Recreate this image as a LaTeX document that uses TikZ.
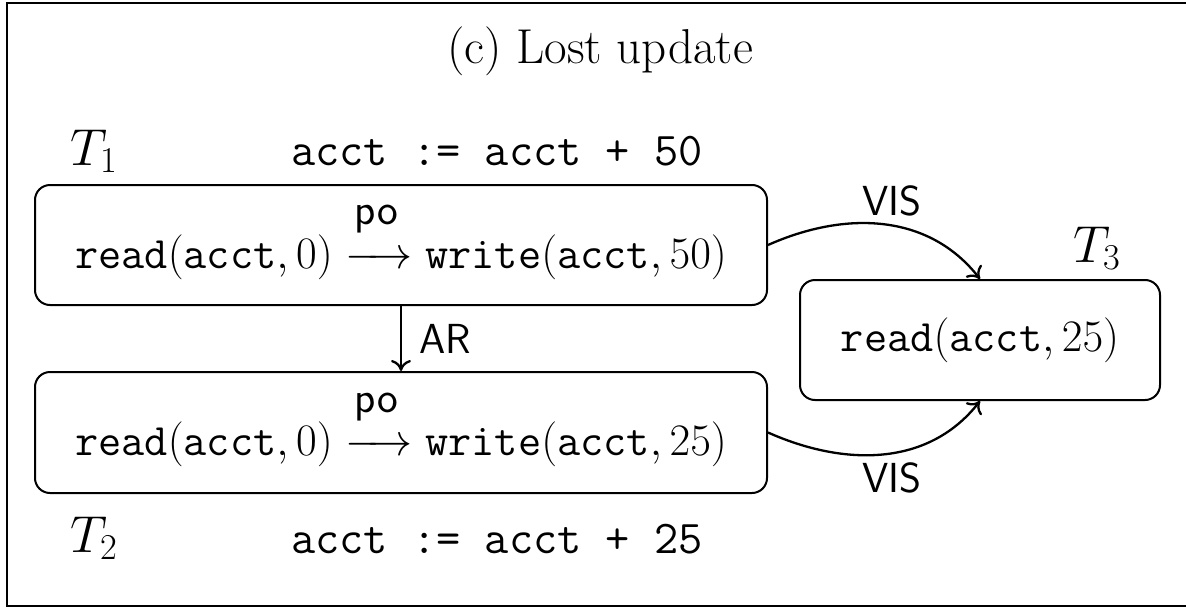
\RequirePackage{fix-cm}
\documentclass[tikz,border=0pt]{standalone}
\usepackage{amsmath}
\usepackage{fontspec}
\usetikzlibrary{arrows.meta}

% font size shorthand (size = baseline skip)
\newcommand{\fs}[1]{\fontsize{#1}{#1}\selectfont}
% typewriter identifiers inside formulas
\newcommand{\op}[1]{\mathtt{#1}}
% program-order arrow with its label
\newcommand{\poarrow}{\xrightarrow{\smash{\raisebox{22pt}{\fs{44}\sffamily po}}}}

\begin{document}
\begin{tikzpicture}[x=1pt,y=-1pt,
  txbox/.style={draw, line width=2pt, rounded corners=15pt, inner sep=0pt},
  evrow/.style={text height=46pt, text depth=0pt},
  rel/.style={line width=2.3pt, -{To[length=11pt,width=20pt]}},
  lbl/.style={font=\fs{42}\sffamily, inner sep=0pt},
  tname/.style={font=\fs{52}, inner sep=0pt, anchor=base west},
  code/.style={font=\fs{47}\ttfamily, inner sep=0pt, anchor=base},
  ]
\useasboundingbox (0,0) rectangle (1186,608);
% outer frame
\draw[line width=2.5pt] (1196,3) -- (7,3) -- (7,606) -- (1196,606);

\node[font=\fs{49}, anchor=base] (title) at (600,63) {(c) Lost update};

% transactions
\node[txbox, evrow, minimum width=732pt, minimum height=120pt, font=\fs{45}] (b1) at (401,245)
  {$\op{read}(\op{acct},0)\poarrow\op{write}(\op{acct},50)$};
\node[txbox, evrow, minimum width=732pt, minimum height=121pt, font=\fs{45}] (b2) at (401,432.5)
  {$\op{read}(\op{acct},0)\poarrow\op{write}(\op{acct},25)$};
\node[txbox, minimum width=360pt, minimum height=120pt, font=\fs{45}] (b3) at (980,340)
  {$\op{read}(\op{acct},25)$};

% transaction names and source code
\node[tname] (t1) at (70,165) {$T_1$};
\node[tname] (t2) at (70,552) {$T_2$};
\node[tname] (t3) at (1073,262) {$T_3$};
\node[code] (c1) at (497,165) {acct := acct + 50};
\node[code] (c2) at (497,553) {acct := acct + 25};

% relations
\draw[rel] (b1.south) -- node[lbl, right=17pt] (ar) {AR} (b2.north);
\draw[rel] (b1.east) to[out=24,in=128] (b3.north);
\node[lbl] (vis1) at (892,201) {VIS};
\draw[rel] (b2.east) to[out=-24,in=-128] (b3.south);
\node[lbl] (vis2) at (892,478) {VIS};
\end{tikzpicture}
\end{document}
